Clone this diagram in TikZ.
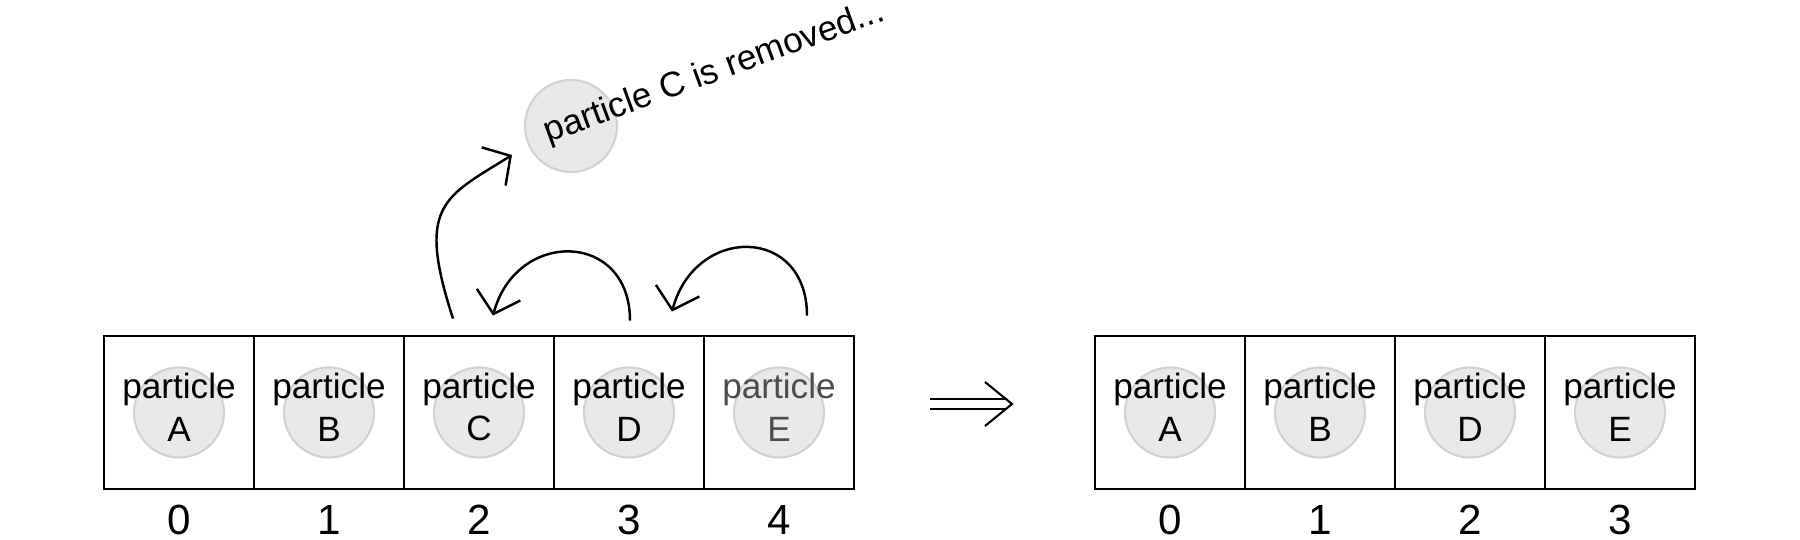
\documentclass[tikz,border=0pt]{standalone}
\usepackage{fontspec}
\setmainfont{Liberation Sans}
\usetikzlibrary{arrows.meta, positioning, calc}

\tikzset{
  cell/.style={draw, line width=0.8pt, minimum width=1.5cm, minimum height=1.53cm, inner sep=0pt},
  disk/.style={circle, fill=gray!17, draw=gray!35, line width=0.6pt, minimum size=0.9cm, inner sep=0pt},
  lbl/.style={align=center, font=\fontsize{10}{12}\selectfont, inner sep=0pt},
  idx/.style={font=\fontsize{12}{14}\selectfont, inner sep=0pt},
  move/.style={line width=0.7pt, -{Straight Barb[length=2mm, width=4.5mm]}},
}

\begin{document}
\begin{tikzpicture}
  \useasboundingbox (0,0) rectangle (18,5.39);

  % array before removal
  \foreach \l/\c [count=\i from 0] in {A/black, B/black, C/black, D/black, E/black!70} {
    \node[cell] (a\i) at ({1.79+1.5*\i},1.265) {};
    \node[disk] (da\i) at (a\i) {};
    \node[lbl, text=\c] (ta\i) at ([yshift=1.5pt]a\i.center) {particle\\\l};
    \node[idx, below=0.14cm of a\i] (ia\i) {\i};
  }

  % array after removal
  \foreach \l [count=\i from 0] in {A, B, D, E} {
    \node[cell] (b\i) at ({11.7+1.5*\i},1.265) {};
    \node[disk] (db\i) at (b\i) {};
    \node[lbl] (tb\i) at ([yshift=1.5pt]b\i.center) {particle\\\l};
    \node[idx, below=0.14cm of b\i] (ib\i) {\i};
  }

  % removed particle
  \node[disk, minimum size=0.92cm] (rm) at (5.71,4.13) {};
  \node[lbl, rotate=20, anchor=base west] (rmtxt) at ($(rm.center)+(-0.23,-0.17)$) {particle C is removed...};

  % moves
  \coordinate (outC) at ($(a2.north)+(-0.26,0.16)$);
  \coordinate (inRm) at ($(rm.center)+(-0.59,-0.29)$);
  \coordinate (outD) at ($(a3.north)+(0.01,0.14)$);
  \coordinate (inC) at ($(a2.north)+(0.14,0.19)$);
  \coordinate (outE) at ($(a4.north)+(0.28,0.19)$);
  \coordinate (inD) at ($(a3.north)+(0.43,0.23)$);
  \draw[move] (outC) to[out=108, in=212, out distance=1.2cm, in distance=0.8cm] (inRm);
  \draw[move] (outD) to[out=90, in=75, out distance=0.9cm, in distance=0.9cm] (inC);
  \draw[move] (outE) to[out=90, in=75, out distance=0.9cm, in distance=0.9cm] (inD);

  % implies
  \coordinate (impS) at (9.30,1.35);
  \coordinate (impE) at (10.12,1.35);
  \draw[line width=0.6pt, double, double distance=2pt, shorten >=0.055cm] (impS) -- (impE);
  \draw[line width=0.6pt] ($(impE)+(-0.27,0.22)$) -- (impE) -- ($(impE)+(-0.27,-0.22)$);
\end{tikzpicture}
\end{document}
